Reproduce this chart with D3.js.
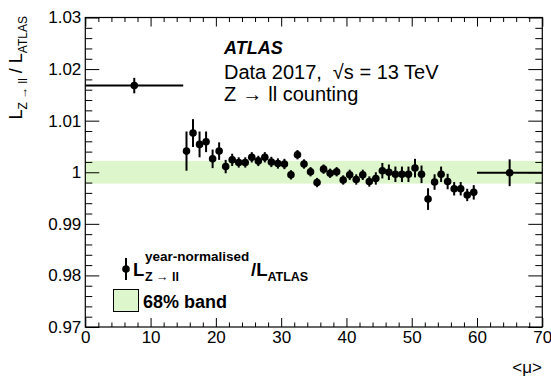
<!DOCTYPE html>
<html>
<head>
<meta charset="utf-8">
<script src="https://cdn.jsdelivr.net/npm/d3@7"></script>
<style>
    body { margin: 0; background: #fff; }
    svg text { font-family: "Liberation Sans", Arial, Helvetica, sans-serif; fill: #000; }
</style>
</head>
<body>
<div id="chart"></div>
<script>
//Datos: cociente por bin de <mu>
const muBins = [15.5, 16.5, 17.5, 18.5, 19.5, 20.5, 21.5, 22.5, 23.5, 24.5,
    25.5, 26.5, 27.5, 28.5, 29.5, 30.5, 31.5, 32.5, 33.5, 34.5,
    35.5, 36.5, 37.5, 38.5, 39.5, 40.5, 41.5, 42.5, 43.5, 44.5,
    45.5, 46.5, 47.5, 48.5, 49.5, 50.5, 51.5, 52.5, 53.5, 54.5,
    55.5, 56.5, 57.5, 58.5, 59.5];
const ratioValues = [1.0041, 1.0076, 1.0054, 1.0059, 1.0026, 1.0041, 1.0011, 1.0024, 1.0019, 1.0019,
    1.0029, 1.0022, 1.0029, 1.0020, 1.0017, 1.0016, 0.9995, 1.0034, 1.0016, 1.0001,
    0.9980, 1.0006, 0.9998, 1.0001, 0.9985, 0.9995, 0.9986, 0.9995, 0.9982, 0.9988,
    1.0003, 1.0000, 0.9996, 0.9996, 0.9996, 1.0008, 0.9996, 0.9948, 0.9981, 0.9996,
    0.9982, 0.9968, 0.9968, 0.9956, 0.9961];
const ratioErrors = [0.0038, 0.0027, 0.0025, 0.0020, 0.0018, 0.0017, 0.0013, 0.0012, 0.0010, 0.0010,
    0.0010, 0.0010, 0.0010, 0.0010, 0.0010, 0.0010, 0.0009, 0.0009, 0.0009, 0.0009,
    0.0009, 0.0009, 0.0009, 0.0009, 0.0009, 0.0010, 0.0010, 0.0010, 0.0010, 0.0012,
    0.0015, 0.0015, 0.0015, 0.0015, 0.0015, 0.0018, 0.0017, 0.0021, 0.0015, 0.0015,
    0.0015, 0.0013, 0.0013, 0.0012, 0.0014];

//Puntos anchos (bins extremos)
const wideMu = [7.5, 65];
const wideMuLow = [0, 60];
const wideMuHigh = [15, 70];
const wideRatio = [1.0168, 0.9999];
const wideErrors = [0.0015, 0.0026];

//Banda del 68%
const bandLow = 0.9978, bandHigh = 1.0022;

//Ticks
const xTicks = [0, 10, 20, 30, 40, 50, 60, 70];
const xMinorTicks = [2, 4, 6, 8, 12, 14, 16, 18, 22, 24, 26, 28, 32, 34, 36, 38, 42, 44, 46, 48, 52, 54, 56, 58, 62, 64, 66, 68];
const yTicks = [0.97, 0.98, 0.99, 1.00, 1.01, 1.02, 1.03];
const yTickLabels = ['0.97', '0.98', '0.99', '1', '1.01', '1.02', '1.03'];
const yMinorTicks = [0.972, 0.974, 0.976, 0.978, 0.982, 0.984, 0.986, 0.988, 0.992, 0.994, 0.996, 0.998,
    1.002, 1.004, 1.006, 1.008, 1.012, 1.014, 1.016, 1.018, 1.022, 1.024, 1.026, 1.028];

const COLOR_BAND = '#ddf6cc';

let margin = {top: 17.5, right: 8.7, bottom: 54, left: 85.3},
    width = 551 - margin.left - margin.right,
    height = 381 - margin.top - margin.bottom;

let svg = d3.select('#chart')
    .append('svg')
        .attr('width', 551)
        .attr('height', 381)
    .append('g')
        .attr('transform', 'translate(' + margin.left + ',' + margin.top + ')');

let x = d3.scaleLinear().domain([0, 70]).range([0, width]);
let y = d3.scaleLinear().domain([0.97, 1.03]).range([height, 0]);

//Banda
svg.append('rect')
    .attr('x', x(0))
    .attr('width', x(70) - x(0))
    .attr('y', y(bandHigh))
    .attr('height', y(bandLow) - y(bandHigh))
    .attr('fill', COLOR_BAND);

//Ejes (ticks hacia dentro, como en ROOT)
function cleanAxis(g) {
    g.select('.domain').remove();
    g.selectAll('.tick line').attr('stroke', '#000').attr('stroke-width', 1);
}

svg.append('g')
    .attr('transform', 'translate(0,' + height + ')')
    .call(d3.axisBottom(x).tickValues(xTicks).tickSize(-9).tickPadding(4).tickFormat(d => d))
    .call(cleanAxis);
svg.append('g')
    .attr('transform', 'translate(0,' + height + ')')
    .call(d3.axisBottom(x).tickValues(xMinorTicks).tickSize(-4.5).tickFormat(''))
    .call(cleanAxis);
svg.append('g')
    .call(d3.axisTop(x).tickValues(xTicks).tickSize(-9).tickFormat(''))
    .call(cleanAxis);
svg.append('g')
    .call(d3.axisTop(x).tickValues(xMinorTicks).tickSize(-4.5).tickFormat(''))
    .call(cleanAxis);

svg.append('g')
    .call(d3.axisLeft(y).tickValues(yTicks).tickSize(-14).tickPadding(4)
        .tickFormat((d, i) => yTickLabels[i]))
    .call(cleanAxis);
svg.append('g')
    .call(d3.axisLeft(y).tickValues(yMinorTicks).tickSize(-7).tickFormat(''))
    .call(cleanAxis);
svg.append('g')
    .attr('transform', 'translate(' + width + ',0)')
    .call(d3.axisRight(y).tickValues(yTicks).tickSize(-14).tickFormat(''))
    .call(cleanAxis);
svg.append('g')
    .attr('transform', 'translate(' + width + ',0)')
    .call(d3.axisRight(y).tickValues(yMinorTicks).tickSize(-7).tickFormat(''))
    .call(cleanAxis);

svg.selectAll('.tick text')
    .attr('font-size', 17)
    .attr('font-family', '"Liberation Sans", Arial, sans-serif');

//Marco
svg.append('rect')
    .attr('width', width)
    .attr('height', height)
    .attr('fill', 'none')
    .attr('stroke', '#000')
    .attr('stroke-width', 1.2);

//Puntos con barras de error
let points = muBins.map((m, i) => ({mu: m, v: ratioValues[i], e: ratioErrors[i]}));

svg.selectAll('.err')
    .data(points)
    .enter()
    .append('line')
    .attr('class', 'err')
    .attr('x1', d => x(d.mu)).attr('x2', d => x(d.mu))
    .attr('y1', d => y(d.v - d.e)).attr('y2', d => y(d.v + d.e))
    .attr('stroke', '#000').attr('stroke-width', 2);

svg.selectAll('.dot')
    .data(points)
    .enter()
    .append('circle')
    .attr('class', 'dot')
    .attr('cx', d => x(d.mu))
    .attr('cy', d => y(d.v))
    .attr('r', 3.8)
    .attr('fill', '#000');

let wide = wideMu.map((m, i) => ({mu: m, lo: wideMuLow[i], hi: wideMuHigh[i], v: wideRatio[i], e: wideErrors[i]}));

svg.selectAll('.werrx')
    .data(wide)
    .enter()
    .append('line')
    .attr('x1', d => x(d.lo)).attr('x2', d => x(d.hi))
    .attr('y1', d => y(d.v)).attr('y2', d => y(d.v))
    .attr('stroke', '#000').attr('stroke-width', 2);
svg.selectAll('.werry')
    .data(wide)
    .enter()
    .append('line')
    .attr('x1', d => x(d.mu)).attr('x2', d => x(d.mu))
    .attr('y1', d => y(d.v - d.e)).attr('y2', d => y(d.v + d.e))
    .attr('stroke', '#000').attr('stroke-width', 2);
svg.selectAll('.wdot')
    .data(wide)
    .enter()
    .append('circle')
    .attr('cx', d => x(d.mu))
    .attr('cy', d => y(d.v))
    .attr('r', 3.8)
    .attr('fill', '#000');

//Textos
let root = d3.select('svg');

root.append('text')
    .attr('x', 224).attr('y', 54)
    .attr('font-size', 18).attr('font-weight', 'bold').attr('font-style', 'italic')
    .text('ATLAS');

let dataLine = root.append('text')
    .attr('x', 224).attr('y', 79)
    .attr('font-size', 20);
dataLine.append('tspan').text('Data 2017,');
dataLine.append('tspan').attr('dx', 11).text('\u221As = 13 TeV');

let zLine = root.append('text')
    .attr('x', 224).attr('y', 101)
    .attr('font-size', 20);
zLine.append('tspan').text('Z');
zLine.append('tspan').attr('dx', 6).text('\u2192');
zLine.append('tspan').attr('dx', 6).text('ll counting');

//Título eje Y
let yTitle = root.append('text')
    .attr('transform', 'translate(22,16) rotate(-90)')
    .attr('text-anchor', 'end')
    .attr('font-size', 18);
yTitle.append('tspan').text('L');
yTitle.append('tspan').attr('font-size', 12).attr('dy', 5).text('Z \u2192 ll');
yTitle.append('tspan').attr('dy', -5).text(' / L');
yTitle.append('tspan').attr('font-size', 12).attr('dy', 5).text('ATLAS');

//Título eje X
root.append('text')
    .attr('x', 542).attr('y', 373)
    .attr('text-anchor', 'end')
    .attr('font-size', 17)
    .text('<\u03BC>');

//Leyenda
root.append('line')
    .attr('x1', 126).attr('x2', 126)
    .attr('y1', 258).attr('y2', 280)
    .attr('stroke', '#000').attr('stroke-width', 2);
root.append('circle')
    .attr('cx', 126).attr('cy', 269)
    .attr('r', 3.8).attr('fill', '#000');

root.append('text')
    .attr('x', 133).attr('y', 276)
    .attr('font-size', 18.5).attr('font-weight', 'bold')
    .text('L');
root.append('text')
    .attr('x', 145).attr('y', 261)
    .attr('font-size', 13.5).attr('font-weight', 'bold')
    .text('year-normalised');
root.append('text')
    .attr('x', 145).attr('y', 281)
    .attr('font-size', 12.5).attr('font-weight', 'bold')
    .text('Z \u2192 ll');
let legRight = root.append('text')
    .attr('x', 251).attr('y', 276)
    .attr('font-size', 18.5).attr('font-weight', 'bold');
legRight.append('tspan').text('/L');
legRight.append('tspan').attr('font-size', 12.5).attr('dy', 5).text('ATLAS');

root.append('rect')
    .attr('x', 113.5).attr('y', 289.5)
    .attr('width', 25).attr('height', 22)
    .attr('fill', COLOR_BAND)
    .attr('stroke', '#000').attr('stroke-width', 1);
root.append('text')
    .attr('x', 143).attr('y', 308)
    .attr('font-size', 18).attr('font-weight', 'bold')
    .text('68% band');
</script>
</body>
</html>
